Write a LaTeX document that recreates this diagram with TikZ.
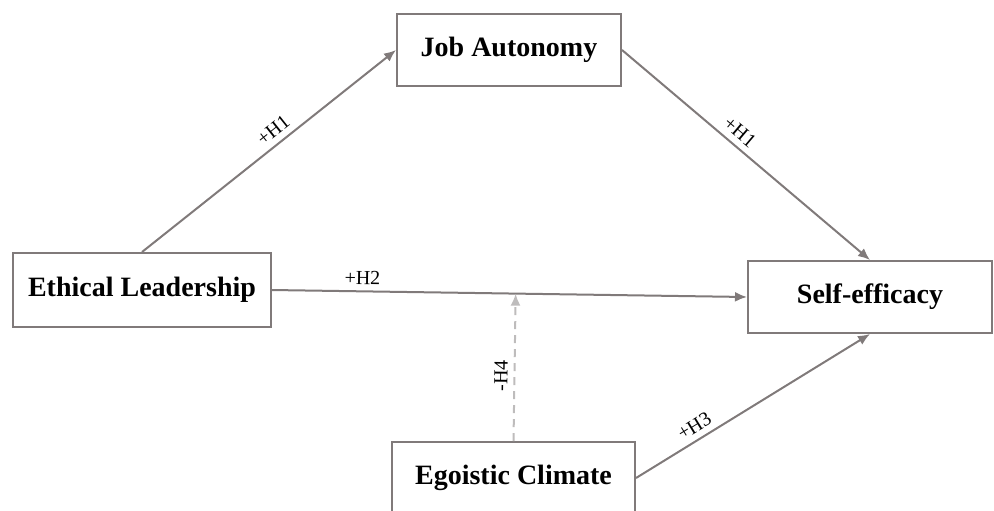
\documentclass[tikz,border=0pt]{standalone}
\usepackage{fontspec}
\setmainfont{Liberation Serif}
\usetikzlibrary{arrows.meta,calc}

\definecolor{linegray}{RGB}{128,122,122}
\definecolor{dashgray}{RGB}{190,188,188}

\begin{document}
\begin{tikzpicture}[
  x=0.5pt,y=-0.5pt,
  construct/.style={draw=linegray,line width=1pt,fill=white,font=\fontsize{14}{16}\selectfont\bfseries,inner sep=0pt},
  to/.style={-{Latex[length=6pt,width=5pt]},line width=1pt,draw=linegray},
  moderate/.style={-{Latex[length=6pt,width=5pt]},line width=1pt,draw=dashgray,dash pattern=on 4pt off 3pt},
  hyp/.style={font=\fontsize{10}{12}\selectfont,sloped,above,inner sep=3pt}]

  \useasboundingbox (0,0) rectangle (994,510);

  % Position the constructs at fixed coordinates
  \node[construct,minimum width=129pt,minimum height=37pt] (lead) at (142,290) {Ethical Leadership};
  \node[construct,minimum width=112pt,minimum height=36pt] (auto) at (509,50) {Job Autonomy};
  \node[construct,minimum width=122pt,minimum height=36pt] (self) at (870,297) {Self-efficacy};
  \node[construct,minimum width=121.5pt,minimum height=36pt] (ego) at (513.5,478) {Egoistic Climate};

  % Draw the paths between the constructs and label them.
  \draw[to] (lead.north) -- node[hyp,pos=0.55] {+H1} (auto.west);
  \draw[to] (auto.east) -- node[hyp,pos=0.44] {+H1} (self.north);
  \draw[to] (lead.east) -- node[hyp,pos=0.19] {+H2} (self.west);
  \draw[to] (ego.east) -- node[hyp,pos=0.28] {+H3} (self.south);
  \coordinate (mod) at ($(lead.east)!(ego.north)!(self.west)$);
  \draw[moderate] (ego.north) -- node[hyp,pos=0.44] {-H4} (mod);

\end{tikzpicture}
\end{document}
